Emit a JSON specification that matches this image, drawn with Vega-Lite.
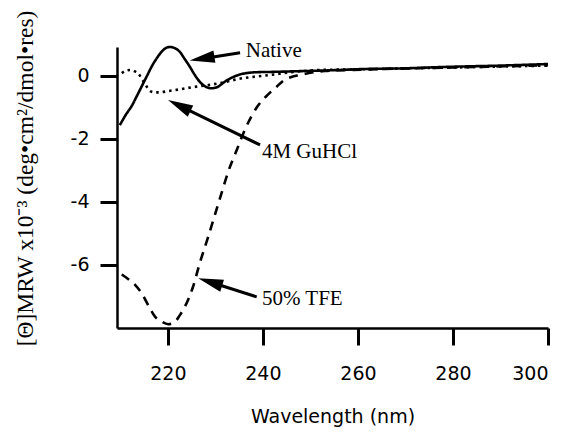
{
  "$schema": "https://vega.github.io/schema/vega-lite/v6.json",
  "autosize": "none",
  "width": 431,
  "height": 281,
  "padding": {"left": 117, "top": 47, "right": 26, "bottom": 109},
  "background": "white",
  "config": {
    "view": {"stroke": null},
    "axis": {
      "domainColor": "black", "domainWidth": 2.5, "grid": false,
      "ticks": true, "tickSize": 17, "tickWidth": 3, "tickColor": "#000000", "tickOpacity": 1,
      "labelFont": "DejaVu Sans", "labelFontSize": 19, "labelColor": "black",
      "titleColor": "black", "titleFontWeight": "normal"
    }
  },
  "datasets": {
    "spectra": [
      {"series": "Native", "wavelength": 209.9, "theta": -1.56},
      {"series": "Native", "wavelength": 211.2, "theta": -1.22},
      {"series": "Native", "wavelength": 212.4, "theta": -0.95},
      {"series": "Native", "wavelength": 213.5, "theta": -0.63},
      {"series": "Native", "wavelength": 214.5, "theta": -0.33},
      {"series": "Native", "wavelength": 215.6, "theta": 0.0},
      {"series": "Native", "wavelength": 216.6, "theta": 0.3},
      {"series": "Native", "wavelength": 217.7, "theta": 0.57},
      {"series": "Native", "wavelength": 218.7, "theta": 0.77},
      {"series": "Native", "wavelength": 219.5, "theta": 0.88},
      {"series": "Native", "wavelength": 220.4, "theta": 0.92},
      {"series": "Native", "wavelength": 221.5, "theta": 0.88},
      {"series": "Native", "wavelength": 222.5, "theta": 0.77},
      {"series": "Native", "wavelength": 223.5, "theta": 0.55},
      {"series": "Native", "wavelength": 224.6, "theta": 0.3},
      {"series": "Native", "wavelength": 225.6, "theta": 0.05},
      {"series": "Native", "wavelength": 226.7, "theta": -0.18},
      {"series": "Native", "wavelength": 228.1, "theta": -0.35},
      {"series": "Native", "wavelength": 229.2, "theta": -0.39},
      {"series": "Native", "wavelength": 230.3, "theta": -0.36},
      {"series": "Native", "wavelength": 231.3, "theta": -0.26},
      {"series": "Native", "wavelength": 232.4, "theta": -0.14},
      {"series": "Native", "wavelength": 233.8, "theta": -0.03},
      {"series": "Native", "wavelength": 235.2, "theta": 0.05},
      {"series": "Native", "wavelength": 237.0, "theta": 0.1},
      {"series": "Native", "wavelength": 238.7, "theta": 0.12},
      {"series": "Native", "wavelength": 242.0, "theta": 0.13},
      {"series": "Native", "wavelength": 247.0, "theta": 0.15},
      {"series": "Native", "wavelength": 252.0, "theta": 0.17},
      {"series": "Native", "wavelength": 256.0, "theta": 0.19},
      {"series": "Native", "wavelength": 261.0, "theta": 0.22},
      {"series": "Native", "wavelength": 269.0, "theta": 0.24},
      {"series": "Native", "wavelength": 279.0, "theta": 0.29},
      {"series": "Native", "wavelength": 290.0, "theta": 0.33},
      {"series": "Native", "wavelength": 300.0, "theta": 0.38},
      {"series": "4M GuHCl", "wavelength": 210.3, "theta": 0.09},
      {"series": "4M GuHCl", "wavelength": 211.2, "theta": 0.17},
      {"series": "4M GuHCl", "wavelength": 212.1, "theta": 0.19},
      {"series": "4M GuHCl", "wavelength": 213.0, "theta": 0.15},
      {"series": "4M GuHCl", "wavelength": 213.8, "theta": 0.07},
      {"series": "4M GuHCl", "wavelength": 214.5, "theta": -0.08},
      {"series": "4M GuHCl", "wavelength": 215.2, "theta": -0.25},
      {"series": "4M GuHCl", "wavelength": 216.3, "theta": -0.48},
      {"series": "4M GuHCl", "wavelength": 217.2, "theta": -0.52},
      {"series": "4M GuHCl", "wavelength": 218.2, "theta": -0.52},
      {"series": "4M GuHCl", "wavelength": 220.0, "theta": -0.48},
      {"series": "4M GuHCl", "wavelength": 222.3, "theta": -0.43},
      {"series": "4M GuHCl", "wavelength": 225.0, "theta": -0.36},
      {"series": "4M GuHCl", "wavelength": 228.5, "theta": -0.29},
      {"series": "4M GuHCl", "wavelength": 232.4, "theta": -0.18},
      {"series": "4M GuHCl", "wavelength": 235.0, "theta": -0.09},
      {"series": "4M GuHCl", "wavelength": 237.3, "theta": -0.04},
      {"series": "4M GuHCl", "wavelength": 241.5, "theta": 0.03},
      {"series": "4M GuHCl", "wavelength": 246.0, "theta": 0.12},
      {"series": "4M GuHCl", "wavelength": 250.5, "theta": 0.18},
      {"series": "4M GuHCl", "wavelength": 255.0, "theta": 0.2},
      {"series": "4M GuHCl", "wavelength": 260.0, "theta": 0.21},
      {"series": "4M GuHCl", "wavelength": 270.0, "theta": 0.24},
      {"series": "4M GuHCl", "wavelength": 280.0, "theta": 0.27},
      {"series": "4M GuHCl", "wavelength": 290.0, "theta": 0.3},
      {"series": "4M GuHCl", "wavelength": 300.0, "theta": 0.33},
      {"series": "50% TFE", "wavelength": 210.3, "theta": -6.3},
      {"series": "50% TFE", "wavelength": 211.7, "theta": -6.45},
      {"series": "50% TFE", "wavelength": 213.1, "theta": -6.63},
      {"series": "50% TFE", "wavelength": 214.5, "theta": -6.9},
      {"series": "50% TFE", "wavelength": 216.2, "theta": -7.37},
      {"series": "50% TFE", "wavelength": 217.3, "theta": -7.64},
      {"series": "50% TFE", "wavelength": 218.7, "theta": -7.8},
      {"series": "50% TFE", "wavelength": 220.1, "theta": -7.88},
      {"series": "50% TFE", "wavelength": 221.5, "theta": -7.8},
      {"series": "50% TFE", "wavelength": 222.5, "theta": -7.6},
      {"series": "50% TFE", "wavelength": 223.6, "theta": -7.32},
      {"series": "50% TFE", "wavelength": 225.3, "theta": -6.69},
      {"series": "50% TFE", "wavelength": 226.7, "theta": -5.95},
      {"series": "50% TFE", "wavelength": 228.5, "theta": -5.1},
      {"series": "50% TFE", "wavelength": 229.9, "theta": -4.41},
      {"series": "50% TFE", "wavelength": 231.3, "theta": -3.72},
      {"series": "50% TFE", "wavelength": 232.7, "theta": -3.04},
      {"series": "50% TFE", "wavelength": 234.5, "theta": -2.35},
      {"series": "50% TFE", "wavelength": 236.2, "theta": -1.71},
      {"series": "50% TFE", "wavelength": 238.7, "theta": -1.0},
      {"series": "50% TFE", "wavelength": 241.0, "theta": -0.6},
      {"series": "50% TFE", "wavelength": 242.9, "theta": -0.34},
      {"series": "50% TFE", "wavelength": 244.3, "theta": -0.15},
      {"series": "50% TFE", "wavelength": 246.0, "theta": -0.03},
      {"series": "50% TFE", "wavelength": 247.8, "theta": 0.03},
      {"series": "50% TFE", "wavelength": 250.0, "theta": 0.1},
      {"series": "50% TFE", "wavelength": 253.0, "theta": 0.16},
      {"series": "50% TFE", "wavelength": 258.0, "theta": 0.19},
      {"series": "50% TFE", "wavelength": 265.0, "theta": 0.22},
      {"series": "50% TFE", "wavelength": 280.0, "theta": 0.27},
      {"series": "50% TFE", "wavelength": 300.0, "theta": 0.34}
    ],
    "notes": [
      {"label": "Native", "text_x": 236.4, "text_y": 0.79, "tail_x": 235.2, "tail_y": 0.74, "head_x": 227.2, "head_y": 0.55},
      {"label": "4M GuHCl", "text_x": 239.8, "text_y": -2.41, "tail_x": 239.4, "tail_y": -2.19, "head_x": 222.4, "head_y": -0.94},
      {"label": "50% TFE", "text_x": 239.8, "text_y": -7.08, "tail_x": 238.7, "tail_y": -7.01, "head_x": 228.9, "head_y": -6.54}
    ]
  },
  "layer": [
    {
      "data": {"name": "spectra"},
      "mark": {"type": "line", "color": "black", "strokeWidth": 2.6, "interpolate": "monotone"},
      "encoding": {
        "x": {"field": "wavelength", "type": "quantitative",
              "scale": {"domain": [209.3, 300], "nice": false, "zero": false},
              "axis": {"values": [220, 240, 260, 280, 300],
                       "title": "Wavelength (nm)", "titleFont": "DejaVu Sans", "titleFontSize": 19, "labelPadding": 19, "titlePadding": 24}},
        "y": {"field": "theta", "type": "quantitative",
              "scale": {"domain": [-8, 0.92], "nice": false, "zero": false},
              "axis": {"values": [0, -2, -4, -6],
                       "labelExpr": "datum.value == 0 ? '0' : '-' + abs(datum.value)",
                       "title": "[Θ]MRW x10⁻³ (deg•cm²/dmol•res)", "titleFont": "Liberation Serif", "titleFontSize": 23.5, "titleY": 131,
                       "labelPadding": 11, "titlePadding": 33}},
        "detail": {"field": "series"},
        "strokeDash": {"field": "series", "type": "nominal",
                       "scale": {"domain": ["Native", "4M GuHCl", "50% TFE"], "range": [[1, 0], [2.5, 4], [9, 7]]},
                       "legend": null}
      }
    },
    {
      "data": {"name": "notes"},
      "mark": {"type": "rule", "color": "black", "strokeWidth": 3},
      "encoding": {
        "x": {"field": "tail_x", "type": "quantitative"},
        "y": {"field": "tail_y", "type": "quantitative"},
        "x2": {"field": "head_x"},
        "y2": {"field": "head_y"}
      }
    },
    {
      "data": {"name": "notes"},
      "transform": [{"filter": "datum.label === 'Native'"}],
      "mark": {"type": "point", "shape": "M0,-1L0.5,1L-0.5,1Z", "filled": true, "color": "black", "opacity": 1, "size": 625, "angle": 261},
      "encoding": {
        "x": {"field": "head_x", "type": "quantitative"},
        "y": {"field": "head_y", "type": "quantitative"}
      }
    },
    {
      "data": {"name": "notes"},
      "transform": [{"filter": "datum.label === '4M GuHCl'"}],
      "mark": {"type": "point", "shape": "M0,-1L0.5,1L-0.5,1Z", "filled": true, "color": "black", "opacity": 1, "size": 625, "angle": 296},
      "encoding": {
        "x": {"field": "head_x", "type": "quantitative"},
        "y": {"field": "head_y", "type": "quantitative"}
      }
    },
    {
      "data": {"name": "notes"},
      "transform": [{"filter": "datum.label === '50% TFE'"}],
      "mark": {"type": "point", "shape": "M0,-1L0.5,1L-0.5,1Z", "filled": true, "color": "black", "opacity": 1, "size": 625, "angle": 287.5},
      "encoding": {
        "x": {"field": "head_x", "type": "quantitative"},
        "y": {"field": "head_y", "type": "quantitative"}
      }
    },
    {
      "data": {"name": "notes"},
      "mark": {"type": "text", "align": "left", "baseline": "middle", "font": "Liberation Serif", "fontSize": 21, "color": "black"},
      "encoding": {
        "x": {"field": "text_x", "type": "quantitative"},
        "y": {"field": "text_y", "type": "quantitative"},
        "text": {"field": "label"}
      }
    }
  ]
}
